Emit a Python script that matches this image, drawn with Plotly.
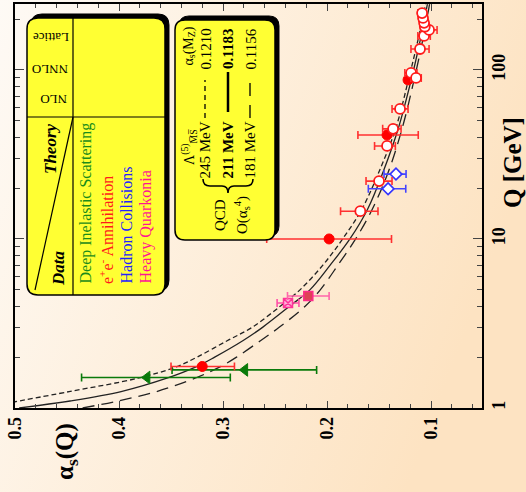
import base64
import plotly.graph_objects as go

# ---------------- data ----------------
# theory curves: Q [GeV] and alpha_s(Q)
curve_Q = [1.0, 1.1, 1.25, 1.5, 1.75, 2.0, 2.5, 3.0, 4.0, 5.0, 7.0, 10, 15, 25, 45, 91.2, 150, 245]
curve_211 = [0.496, 0.447, 0.398, 0.354, 0.326, 0.308, 0.281, 0.262, 0.236, 0.2165, 0.197,
             0.178, 0.161, 0.146, 0.1315, 0.1183, 0.1104, 0.1035]
curve_181 = [0.435, 0.401, 0.364, 0.327, 0.303, 0.287, 0.264, 0.246, 0.221, 0.2065, 0.1895,
             0.1725, 0.1565, 0.141, 0.1278, 0.1156, 0.108, 0.1014]
curve_245_Q = [1.08, 1.25, 1.5, 1.75, 2.0, 2.5, 3.0, 4.0, 5.0, 7.0, 10, 15, 25, 45, 91.2, 150, 245]
curve_245 = [0.503, 0.448, 0.382, 0.345, 0.325, 0.296, 0.272, 0.245, 0.226, 0.204, 0.185,
             0.1665, 0.150, 0.134, 0.121, 0.1126, 0.1052]

# e+e- annihilation, NLO (open circles)
ee_nlo_Q = [14.6, 22.0, 35.5, 44.8, 58.8, 96.0, 89.7, 133, 159, 172.5, 180, 190, 203, 217]
ee_nlo_a = [0.168, 0.150, 0.1423, 0.1365, 0.1298, 0.1192, 0.1144, 0.1106, 0.1067, 0.1019,
            0.106, 0.1067, 0.1077, 0.1086]
ee_nlo_ep = [0.019, 0.0125, 0.012, 0.010, 0.0077, 0.006, 0.005, 0.0087, 0.006, 0.0072,
             0.004, 0.004, 0.004, 0.004]
ee_nlo_em = [0.017, 0.0125, 0.008, 0.0077, 0.0077, 0.0057, 0.005, 0.0087, 0.006, 0.0077,
             0.004, 0.004, 0.004, 0.004]

# e+e- annihilation, NNLO (filled circles)
ee_nnlo_Q = [1.76, 10.0, 41.2, 87.3]
ee_nnlo_a = [0.320, 0.198, 0.1423, 0.1221]
ee_nnlo_ep = [0.030, 0.060, 0.028, 0.003]
ee_nnlo_em = [0.031, 0.060, 0.030, 0.003]

# deep inelastic scattering, NNLO (triangles)
dis_Q = [1.515, 1.68]
dis_a = [0.373, 0.279]
dis_ep = [0.063, 0.070]
dis_em = [0.080, 0.069]

# hadron collisions, NLO (open diamonds)
had_Q = [19.8, 24.2]
had_a = [0.1413, 0.1337]
had_ep = [0.019, 0.0115]
had_em = [0.017, 0.0097]

# heavy quarkonia, NNLO and lattice
hq_Q = [4.6]
hq_a = [0.218]
hq_e = [0.020]
lat_Q = [4.18]
lat_a = [0.2375]
lat_e = [0.0105]

alpha_ticks = [0.1, 0.2, 0.3, 0.4, 0.5]
q_ticks = [1, 10, 100]
q_ticktext = ["1", "10", "100"]
q_minor = [2, 3, 4, 5, 6, 7, 8, 9, 20, 30, 40, 50, 60, 70, 80, 90, 200]

# ---------------- layout helpers (pixel geometry) ----------------
W, H = 526, 492
L, R, T, B = 15, 482, 4, 408
FONT = "Liberation Serif"


def px(x):
    return (x - L) / (R - L)


def py(y):
    return (B - y) / (B - T)


def P(x, y):
    return f"{px(x):.5f},{py(y):.5f}"


def rrect(x0, y0, x1, y1, r):
    return (f"M {P(x0 + r, y0)} L {P(x1 - r, y0)} Q {P(x1, y0)} {P(x1, y0 + r)} "
            f"L {P(x1, y1 - r)} Q {P(x1, y1)} {P(x1 - r, y1)} L {P(x0 + r, y1)} "
            f"Q {P(x0, y1)} {P(x0, y1 - r)} L {P(x0, y0 + r)} Q {P(x0, y0)} {P(x0 + r, y0)} Z")


shapes = []
annotations = []


def box(x0, y0, x1, y1, r=11):
    shapes.append(dict(type="path", xref="paper", yref="paper", path=rrect(x0 + 4, y0 - 4, x1 + 4, y1 - 4, r),
                       fillcolor="black", line=dict(color="black", width=1), layer="above"))
    shapes.append(dict(type="path", xref="paper", yref="paper", path=rrect(x0, y0, x1, y1, r),
                       fillcolor="#ffff33", line=dict(color="black", width=1.5), layer="above"))


def seg(x0, y0, x1, y1, width=1.2, dash="solid"):
    shapes.append(dict(type="line", xref="paper", yref="paper", x0=px(x0), y0=py(y0), x1=px(x1), y1=py(y1),
                       line=dict(color="black", width=width, dash=dash), layer="above"))


def ann(text, x, y, size, color="black", angle=-90, xa="center", ya="middle", bold=False, italic=False):
    annotations.append(dict(text=text, x=px(x), y=py(y), xref="paper", yref="paper", showarrow=False,
                            textangle=angle, xanchor=xa, yanchor=ya,
                            font=dict(family=FONT, size=size, color=color,
                                      weight="bold" if bold else "normal",
                                      style="italic" if italic else "normal")))


# background gradient
svg = ('<svg xmlns="http://www.w3.org/2000/svg" width="526" height="492">'
       '<defs><linearGradient id="g" x1="0" y1="0" x2="1" y2="0.35">'
       '<stop offset="0" stop-color="#fefaf5"/><stop offset="1" stop-color="#fde3c2"/>'
       '</linearGradient></defs><rect width="526" height="492" fill="url(#g)"/></svg>')
bg_src = "data:image/svg+xml;base64," + base64.b64encode(svg.encode()).decode()

# ---------------- figure ----------------
fig = go.Figure()

fig.add_trace(go.Scatter(x=curve_245, y=curve_245_Q, mode="lines", line=dict(color="#222", width=1.3, dash="5px,3px"),
                         line_shape="spline", showlegend=False, hoverinfo="skip"))
fig.add_trace(go.Scatter(x=curve_211, y=curve_Q, mode="lines", line=dict(color="#222", width=1.3),
                         line_shape="spline", showlegend=False, hoverinfo="skip"))
fig.add_trace(go.Scatter(x=curve_181, y=curve_Q, mode="lines", line=dict(color="#222", width=1.3, dash="12px,7px"),
                         line_shape="spline", showlegend=False, hoverinfo="skip"))


def pts(xv, yv, ep, em, symbol, fill, line, ecol, size=9, lw=2):
    fig.add_trace(go.Scatter(
        x=xv, y=yv, mode="markers", showlegend=False,
        marker=dict(symbol=symbol, size=size, color=fill, line=dict(color=line, width=lw)),
        error_x=dict(type="data", array=ep, arrayminus=em, color=ecol, thickness=1.6, width=4)))


pts(had_a, had_Q, had_ep, had_em, "diamond", "white", "#3333ff", "#4444ff", size=9, lw=1.6)
pts(dis_a, dis_Q, dis_ep, dis_em, "triangle-left", "#0a7a0a", "#0a7a0a", "#0a7a0a", size=11, lw=1)
pts(lat_a, lat_Q, lat_e, lat_e, "square-x", "#ffb3d9", "#ff3399", "#ff4fa8", size=9, lw=1.5)
pts(hq_a, hq_Q, hq_e, hq_e, "square", "#dd4455", "#ff2a8a", "#ff66aa", size=9, lw=1.5)
pts(ee_nnlo_a, ee_nnlo_Q, ee_nnlo_ep, ee_nnlo_em, "circle", "#ff0000", "#ff0000", "#ff3030", size=10, lw=1)
pts(ee_nlo_a, ee_nlo_Q, ee_nlo_ep, ee_nlo_em, "circle", "white", "#ff1a1a", "#ff3030", size=10, lw=1.8)

# ---- legend box 1 (data / theory table) ----
box(27, 18, 165, 295)
seg(73, 18, 73, 295)
seg(27, 117, 165, 117)
seg(73, 117, 35, 290)
ann("Theory", 50, 149, 17, bold=True, italic=True)
ann("Data", 58, 268, 17, bold=True, italic=True)
ann("NLO", 54, 100, 13, angle=180)
ann("NNLO", 50, 70, 13, angle=180)
ann("Lattice", 51, 37, 13, angle=180)
ann("Deep Inelastic Scattering", 85, 286, 16, color="#1a8c1a", ya="bottom")
ann("e<sup>+</sup>e<sup>-</sup> Annihilation", 106, 286, 16, color="#ff1a1a", ya="bottom")
ann("Hadron Collisions", 126, 286, 16, color="#2222ff", ya="bottom")
ann("Heavy Quarkonia", 145, 286, 16, color="#ff1493", ya="bottom")

# legend markers on a pixel-coordinate overlay axis
leg_sym = [("triangle-left", 85, 69, "#0a7a0a", "#0a7a0a", 11, 1),
           ("circle", 106, 99, "white", "#ff1a1a", 9, 1.8),
           ("circle", 106, 68, "#ff0000", "#ff0000", 10, 1),
           ("diamond", 126, 99, "white", "#3333ff", 9, 1.6),
           ("square", 144, 68, "#dd4455", "#ff2a8a", 9, 1.5),
           ("square-x", 144, 37, "#ffb3d9", "#ff3399", 9, 1.5)]
for s, x, y, f, lc, sz, lw in leg_sym:
    fig.add_trace(go.Scatter(x=[x], y=[y], xaxis="x2", yaxis="y2", mode="markers", showlegend=False,
                             marker=dict(symbol=s, size=sz, color=f, line=dict(color=lc, width=lw)),
                             hoverinfo="skip"))

# ---- legend box 2 (QCD curves) ----
box(175, 20, 275, 240, r=10)
ann("Λ<sup>(5)</sup><sub>M̅S̅</sub>", 189, 147, 14)
ann("α<sub>s</sub>(M<sub>Z</sub>)", 189, 25, 14, ya="top")
ann("245 MeV", 205, 181, 15, ya="bottom")
ann("0.1210", 205, 27, 15, ya="top")
seg(205, 118, 205, 80, width=1.3, dash="5px,4px")
ann("211 MeV", 228, 181, 15, ya="bottom", bold=True)
ann("0.1183", 228, 27, 15, ya="top", bold=True)
seg(228, 112, 228, 72, width=2.5)
ann("181 MeV", 250, 181, 15, ya="bottom")
ann("0.1156", 250, 27, 15, ya="top")
seg(250, 118, 250, 80, width=1.3, dash="13px,9px")
brace = (f"M {P(203, 179)} Q {P(203, 186)} {P(210, 186)} L {P(222, 186)} Q {P(228, 186)} {P(228, 193)} "
         f"Q {P(228, 186)} {P(234, 186)} L {P(246, 186)} Q {P(253, 186)} {P(253, 179)}")
shapes.append(dict(type="path", xref="paper", yref="paper", path=brace,
                   line=dict(color="black", width=1.6), layer="above"))
ann("QCD", 220, 215, 15)
ann("O(α<sub>s</sub><sup>4</sup>)", 242, 215, 15)

# axis titles
ann("Q [GeV]", 512, 163, 25, bold=True)
ann("α<sub>s</sub>(Q)", 66, 452, 25, bold=True)

tickfont = dict(family=FONT, size=18, color="black", weight="bold")
fig.update_layout(
    width=W, height=H,
    margin=dict(l=L, r=W - R, t=T, b=H - B, autoexpand=False),
    paper_bgcolor="#fdf3e4", plot_bgcolor="rgba(0,0,0,0)",
    images=[dict(source=bg_src, xref="paper", yref="paper", x=px(0), y=py(0),
                 sizex=px(W) - px(0), sizey=py(0) - py(H), sizing="stretch", layer="below")],
    xaxis=dict(range=[0.5, 0.051], tickvals=alpha_ticks, ticktext=[f"{v:.1f}" for v in alpha_ticks],
               tickangle=-90, tickfont=tickfont, ticks="inside", ticklen=7, tickwidth=1.2, automargin=False,
               showline=True, linewidth=1.6, linecolor="black", mirror="ticks", showgrid=False,
               zeroline=False, minor=dict(dtick=0.02, tick0=0, ticks="inside", ticklen=4, showgrid=False)),
    yaxis=dict(type="log", range=[0, 2.39], side="right", tickvals=q_ticks, ticktext=q_ticktext,
               tickangle=-90, tickfont=tickfont, ticks="inside", ticklen=9, tickwidth=1.2, automargin=False,
               showline=True, linewidth=1.6, linecolor="black", mirror="ticks", showgrid=False,
               zeroline=False, minor=dict(tickvals=q_minor, ticks="inside", ticklen=5, showgrid=False)),
    xaxis2=dict(overlaying="x", range=[L, R], visible=False, automargin=False),
    yaxis2=dict(overlaying="y", range=[B, T], visible=False, automargin=False),
    shapes=shapes, annotations=annotations, showlegend=False,
)

fig.write_html("out.html", config={"displayModeBar": False},
               post_script="document.body.style.margin='0px';document.body.style.overflow='hidden';")
